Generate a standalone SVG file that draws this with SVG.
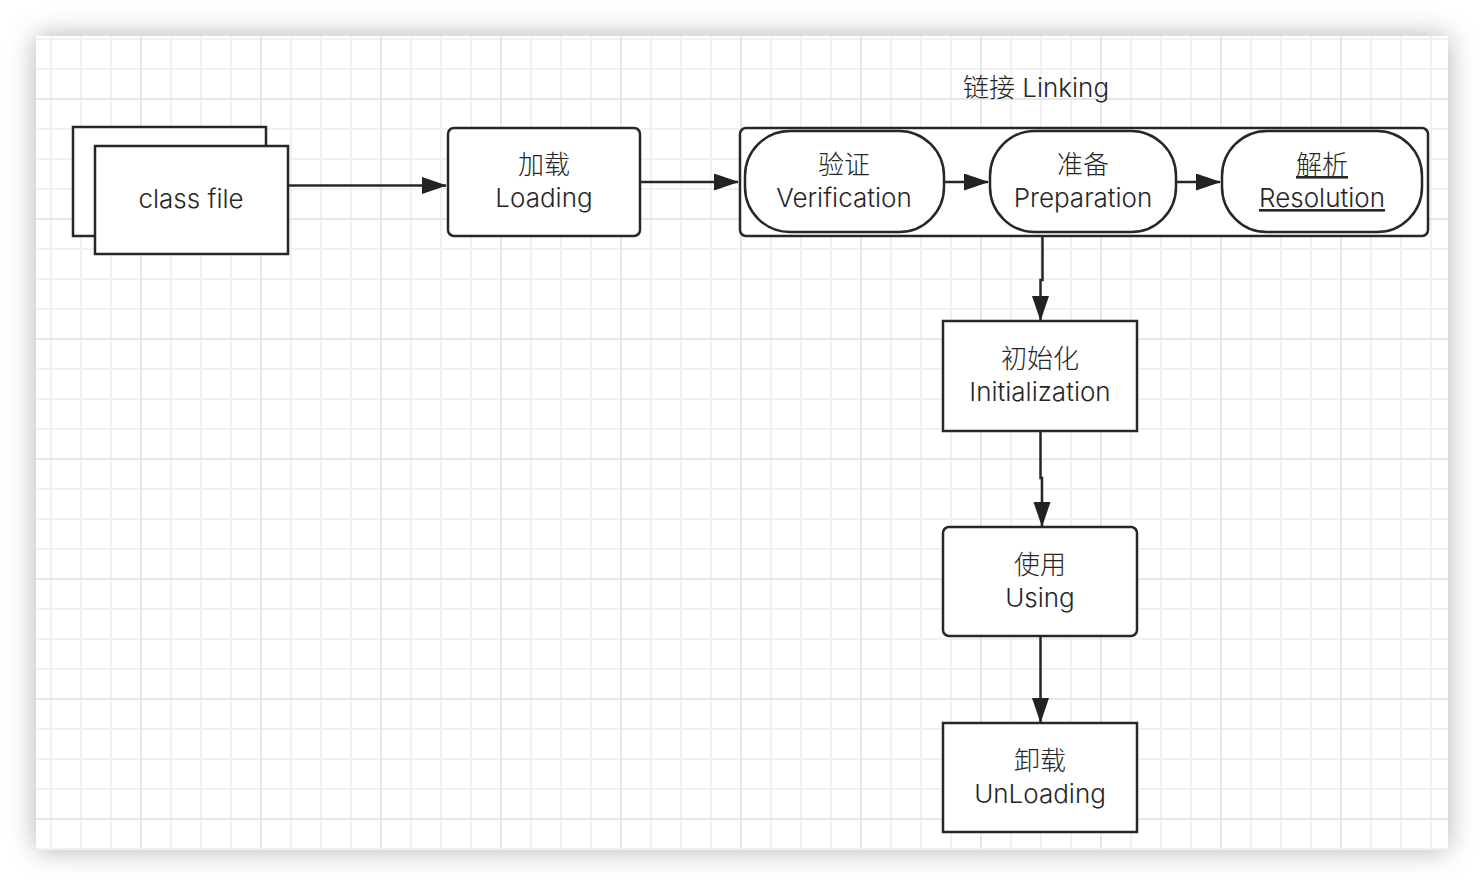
<svg xmlns="http://www.w3.org/2000/svg" width="1484" height="886" viewBox="0 0 1484 886">
<defs>
<filter id="sh" x="-10%" y="-10%" width="120%" height="120%">
<feDropShadow dx="0" dy="0" stdDeviation="14" flood-color="#000" flood-opacity="0.3"/>
</filter>
<pattern id="grid" patternUnits="userSpaceOnUse" x="6" y="84" width="120" height="120">
<path d="M45 0V120M75 0V120M105 0V120M0 45H120M0 75H120M0 105H120" stroke="#f1f1f1" stroke-width="2" fill="none"/>
<path d="M15 0V120M0 15H120" stroke="#e7e7e7" stroke-width="2" fill="none"/>
</pattern>
<marker id="arr" markerUnits="userSpaceOnUse" markerWidth="26" markerHeight="18" refX="24" refY="8.5" orient="auto">
<path d="M0 0L25 8.5L0 17Z" fill="#222"/>
</marker>
<style>
.box{fill:#fff;stroke:#24272b;stroke-width:2.5}
.t{font-family:Inter,"Noto Sans CJK SC",sans-serif;font-size:26px;font-weight:300;fill:#262626;text-anchor:middle}
.c{stroke:#24272b;stroke-width:2.5;fill:none;marker-end:url(#arr)}
</style>
</defs>
<rect x="0" y="0" width="1484" height="886" fill="#fff"/>
<rect x="36" y="36" width="1412" height="814" fill="#fff" filter="url(#sh)"/>
<rect x="36" y="36" width="1412" height="814" fill="url(#grid)"/>

<text class="t" x="1036" y="97">链接 Linking</text>

<g id="classfile">
<rect class="box" x="73" y="127" width="193" height="109"/>
<rect class="box" x="95" y="146" width="193" height="108"/>
<text class="t" x="191" y="208">class file</text>
</g>

<g id="loading">
<rect class="box" x="448" y="128" width="192" height="108" rx="6"/>
<text class="t" x="544" y="174">加载</text>
<text class="t" x="544" y="207">Loading</text>
</g>

<g id="linking">
<rect class="box" x="740" y="128" width="688" height="108" rx="6"/>
</g>

<g id="verification">
<rect class="box" x="745" y="131" width="199" height="101" rx="45" ry="45"/>
<text class="t" x="844" y="174">验证</text>
<text class="t" x="844" y="207">Verification</text>
</g>

<g id="preparation">
<rect class="box" x="990" y="131" width="186" height="101" rx="45" ry="45"/>
<text class="t" x="1083" y="174">准备</text>
<text class="t" x="1083" y="207">Preparation</text>
</g>

<g id="resolution">
<rect class="box" x="1222" y="131" width="200" height="101" rx="45" ry="45"/>
<text class="t" x="1322" y="174" text-decoration="underline">解析</text>
<text class="t" x="1322" y="207" text-decoration="underline">Resolution</text>
</g>

<g id="initialization">
<rect class="box" x="943" y="321" width="194" height="110"/>
<text class="t" x="1040" y="368">初始化</text>
<text class="t" x="1040" y="401">Initialization</text>
</g>

<g id="using">
<rect class="box" x="943" y="527" width="194" height="109" rx="6"/>
<text class="t" x="1040" y="574">使用</text>
<text class="t" x="1040" y="607">Using</text>
</g>

<g id="unloading">
<rect class="box" x="943" y="723" width="194" height="109"/>
<text class="t" x="1040" y="770">卸载</text>
<text class="t" x="1040" y="803">UnLoading</text>
</g>

<g id="connectors">
<path class="c" d="M288 185.5H446"/>
<path class="c" d="M640 182H738"/>
<path class="c" d="M944 182H988"/>
<path class="c" d="M1176 182H1220"/>
<path class="c" d="M1042.5 236V280H1040.5V320"/>
<path class="c" d="M1040.5 431V478H1042V526"/>
<path class="c" d="M1040.5 636V722"/>
</g>
</svg>
